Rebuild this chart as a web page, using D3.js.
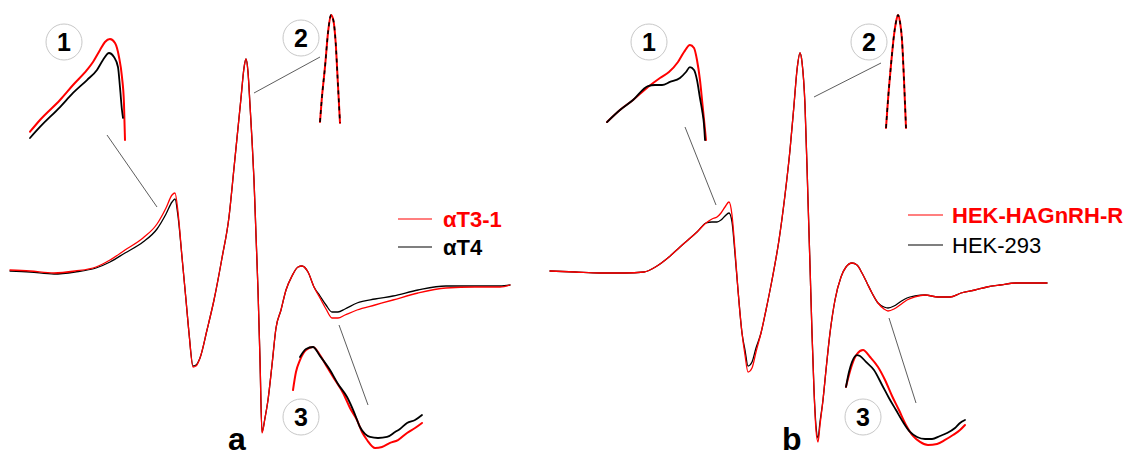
<!DOCTYPE html>
<html>
<head>
<meta charset="utf-8">
<script src="https://cdn.jsdelivr.net/npm/d3@7"></script>
<style>
  html, body { margin: 0; padding: 0; background: #fff; }
  svg { display: block; }
  text { font-family: "Liberation Sans", Arial, sans-serif; }
</style>
</head>
<body>
<svg id="chart" width="1132" height="457"></svg>
<script>
// ---------- Panel a: EPR spectra, αT3-1 vs αT4 (field in G offset, amplitude in a.u.) ----------
const fieldA = [0,4,8.8,13,17.2,20,23,26.6,29.4,31.2,32.4,33,33.6,34.4,35.2,35.8,36.6,37.2,38,39.4,40.8,42.4,43.8,44.8,45.6,46.2,46.8,47.2,47.6,48,48.4,48.8,49.2,49.6,50,50.4,51,51.6,52.4,53.2,54.2,55.2,56.4,57.6,58.4,59.6,60.8,62,63.2,64.4,65.6,67,69.4,73,76.6,81.6,87.2,93,98,100];
const aT31 = [0,-0.5,-1.5,-0.5,1.5,5,10,16,23,31,37.5,38.5,29,6.5,-15,-31.5,-48.5,-48,-44,-30,-15,6,26.5,51,71,86,101,105.5,99,82.5,65,45,17.5,-10,-45,-81.5,-74,-65,-47.5,-29,-20,-10,-3,1.5,2,-1,-8.5,-14,-19.5,-24,-24,-22.5,-20,-17.5,-15,-11.5,-9,-8.5,-8.5,-7.5];
const aT4  = [-0.5,-1,-2,-1,1,4,8.5,14,20.5,28,34,35.5,27,6.5,-15,-31.5,-48,-47.5,-44,-30,-15,6,26.5,51,71,86,101,105.5,99,82.5,65,45,17.5,-10,-45,-81,-74,-65,-47.5,-29,-20,-10,-3,1.5,2,-1,-8.5,-13,-17.5,-21,-21,-19.5,-16.5,-14.5,-13,-10,-8,-8,-8,-7.5];

// ---------- Panel b: HEK-HAGnRH-R vs HEK-293 ----------
const fieldB = [0,5,10,15,18.8,21.4,23.8,26,27.6,29.4,31.2,32.4,33.4,34.2,35,35.8,36.4,37,37.6,38.4,39,39.6,40.4,41.2,42.2,43.2,44.4,45.8,47,48,48.8,49.4,50,50.4,51,51.6,52,52.4,52.8,53.2,53.6,54,54.6,55.2,56,57,58.2,59.2,60.4,61.4,62.4,63.4,64.4,65.6,66.8,67.6,68.8,70,71.4,73,75,77.6,80,82.2,85,87.4,90,93.2,96,99.4];
const hekHA  = [-0.5,-1,-1.5,-1.5,-1,2,6.5,11.5,15,19,23.5,25.5,26.5,28.5,31.5,34,27.5,10,-10,-31.5,-42.5,-51,-49,-41,-31.5,-20,-5,15,37.5,60,82.5,100,108.5,104,82.5,35,2.5,-31.5,-60,-80,-86,-77.5,-65,-50,-31.5,-15,-3.5,1.5,3.5,2.5,-1.5,-6.5,-11.5,-16.5,-19.5,-20.5,-19.5,-17.5,-15,-13.5,-12.5,-13.5,-13.5,-11.5,-10,-8.5,-7.5,-6.5,-6.5,-6.5];
const hek293 = [-0.5,-1,-1.5,-1.5,-1,2,6.5,11.5,15,19,23.5,24,24,25,27,28.5,24,8,-10,-31.5,-40,-48,-46,-39,-31.5,-20,-5,15,37.5,60,82.5,100,108.5,104,82.5,35,2.5,-31.5,-60,-78,-84,-76,-65,-50,-31.5,-15,-3.5,1.5,3.5,2.5,-1.5,-6.5,-11.5,-16.5,-18.5,-19,-18,-16,-14,-13,-12.5,-13.5,-13.5,-11.5,-10,-8.5,-7.5,-6.5,-6.5,-6.5];

// ---------- Magnified regions (relative field 0-100, relative amplitude 0-100) ----------
// region 1 (low-field shoulder)
const a1RedX = [0,10.5,31.6,45.3,60,66.3,73.7,78.9,84.2,89.5,93.7,96.8,98.9,100];
const a1Red  = [12.5,23.6,42.5,56.6,70.8,78.3,89.6,97.2,100,96.2,83,64.2,39.6,4.7];
const a1BlkX = [0,10.5,31.6,45.3,60,70.5,76.8,83.2,88.4,92.6,94.7,96.8,97.9];
const a1Blk  = [6.6,17,35.8,49.1,61.3,70.8,80.2,86.8,83,73.6,54.7,33,25.5];
const b1RedX = [0,13.1,26.3,41.4,53.5,62.6,71.7,77.8,83.8,87.9,90.9,93.9,96,98,100];
const b1Red  = [18.9,31.6,42.1,55.8,65.3,71.6,82.1,92.6,100,96.8,84.2,63.2,42.1,21.1,0];
const b1BlkX = [0,13.1,26.3,41.4,48.5,55.6,63.6,73.7,79.8,83.8,87.9,90.9,93.9,96,98,99];
const b1Blk  = [18.9,31.6,42.1,56.8,57.9,57.9,61.1,65.3,71.6,76.8,73.7,63.2,44.2,31.6,15.8,0];
// region 2 (central line top)
const a2X   = [0,8.5,25,41.5,55,66.5,78.5,88.5,100];
const a2Red = [0.9,21.3,51.9,86.1,100,95.4,74.1,39.8,0];
const a2Blk = [0.9,21.3,51.9,86.1,100,95.4,74.1,39.8,0];
const b2X   = [0,10,25,40,50,60,70,80,90,100];
const b2Red = [0,24.8,55.8,82.3,93.8,100,93.8,77.9,42.5,0];
const b2Blk = [0,24.8,55.8,82.3,93.8,100,93.8,77.9,42.5,0];
// region 3 (high-field line)
const a3RedX = [0,2.3,5.4,10.1,15.5,20.9,26.4,32.6,38.8,44.2,49.6,53.5,57.4,63.6,69,75.2,81.4,88.4,94.6,100];
const a3Red  = [57.4,75.2,87.1,97,100,92.1,80.2,67.3,54.5,39.6,27.7,15.8,7.9,0,1,5,7.9,14.9,19.8,24.8];
const a3BlkX = [5.4,10.1,15.5,20.9,28.7,34.9,41.9,47.3,51.9,55.8,59.7,65.9,72.9,79.1,82.9,88.4,94.6,100];
const a3Blk  = [90.1,98,100,91.1,77.2,63.4,50.5,35.6,20.8,13.9,10.9,9.9,10.9,15.8,18.8,24.8,27.7,32.7];
const b3RedX = [0,2.5,5,9.2,14.3,20.2,26.9,32.8,38.7,44.5,50.4,56.3,62.2,68.9,76.5,83.2,89.9,95.8,100];
const b3Red  = [61.1,73.7,84.2,95.8,100,92.6,82.1,68.4,51.6,36.8,21.1,9.5,3.2,0,1.1,5.3,10.5,15.8,21.1];
const b3BlkX = [0,2.5,5,9.2,11.8,16.8,23.5,30.3,36.1,42,47.9,53.8,59.7,66.4,72.3,79,84.9,91.6,95.8,100];
const b3Blk  = [61.1,76.8,87.4,94.7,93.7,87.4,78.9,63.2,49.5,36.8,24.2,13.7,8.4,6.3,6.3,9.5,12.6,17.9,23.2,26.3];

// ---------- Labels ----------
const legendA = ["\u03b1T3-1", "\u03b1T4"];
const legendB = ["HEK-HAGnRH-R", "HEK-293"];
const panelLabels = ["a", "b"];
const regionLabels = ["1", "2", "3"];

const RED = "#ff0000", BLACK = "#000000";
const svg = d3.select("#chart");
svg.append("rect").attr("width", 1132).attr("height", 457).attr("fill", "#fff");

const yMain = d3.scaleLinear().domain([-100, 100]).range([470, 70]);
const zip = (xs, ys) => xs.map((x, i) => [x, ys[i]]);

function drawLine(g, xs, ys, sx, sy, color, width, dash) {
  const line = d3.line().x(d => sx(d[0])).y(d => sy(d[1])).curve(d3.curveMonotoneX);
  const p = g.append("path").datum(zip(xs, ys))
    .attr("d", line).attr("fill", "none")
    .attr("stroke", color).attr("stroke-width", width)
    .attr("stroke-linejoin", "round").attr("stroke-linecap", "round");
  if (dash) p.attr("stroke-dasharray", dash).attr("stroke-linecap", "butt");
}

function drawPanel(cfg) {
  const g = svg.append("g");
  const x = d3.scaleLinear().domain([0, 100]).range(cfg.xRange);

  // connector lines from the spectrum to the magnified regions
  cfg.connectors.forEach(c => {
    g.append("line").attr("x1", c[0]).attr("y1", c[1]).attr("x2", c[2]).attr("y2", c[3])
      .attr("stroke", "#333").attr("stroke-width", 0.8);
  });

  // full spectra
  drawLine(g, cfg.field, cfg.black, x, yMain, BLACK, 1.3);
  drawLine(g, cfg.field, cfg.red, x, yMain, RED, 1.3);

  // magnified regions
  cfg.insets.forEach(ins => {
    const sx = d3.scaleLinear().domain([0, 100]).range(ins.box[0]);
    const sy = d3.scaleLinear().domain([0, 100]).range(ins.box[1]);
    if (ins.overlay) {
      drawLine(g, ins.redX, ins.red, sx, sy, RED, 2);
      drawLine(g, ins.blkX, ins.blk, sx, sy, BLACK, 1.6, "4,4");
    } else {
      drawLine(g, ins.redX, ins.red, sx, sy, RED, 2);
      drawLine(g, ins.blkX, ins.blk, sx, sy, BLACK, 1.8);
    }
  });

  // numbered circles
  cfg.circles.forEach((c, i) => {
    g.append("circle").attr("cx", c[0]).attr("cy", c[1]).attr("r", 18)
      .attr("fill", "#fff").attr("stroke", "#c8c8c8").attr("stroke-width", 1);
    g.append("text").attr("x", c[0]).attr("y", c[1] + 9)
      .attr("text-anchor", "middle").attr("font-size", 25).attr("font-weight", "bold")
      .attr("fill", "#000").text(regionLabels[i]);
  });

  // legend
  const lg = cfg.legend;
  [[RED, lg.names[0], "bold"], [BLACK, lg.names[1], lg.secondWeight]].forEach((d, i) => {
    const yy = lg.y[i];
    g.append("line").attr("x1", lg.x0).attr("x2", lg.x1).attr("y1", yy).attr("y2", yy)
      .attr("stroke", d[0]).attr("stroke-width", 1.2);
    g.append("text").attr("x", lg.tx).attr("y", yy + 8)
      .attr("font-size", 22).attr("font-weight", d[2]).attr("fill", d[0]).text(d[1]);
  });

  // panel label
  g.append("text").attr("x", cfg.label[0]).attr("y", cfg.label[1])
    .attr("font-size", 32).attr("font-weight", "bold").attr("fill", "#000").text(cfg.label[2]);
}

drawPanel({
  xRange: [10, 510],
  field: fieldA, red: aT31, black: aT4,
  connectors: [[107, 135, 157, 207], [254, 93, 320, 57], [339, 325, 368, 405]],
  insets: [
    { box: [[30, 125], [145, 39]], redX: a1RedX, red: a1Red, blkX: a1BlkX, blk: a1Blk },
    { box: [[320, 340], [123, 15]], redX: a2X, red: a2Red, blkX: a2X, blk: a2Blk, overlay: true },
    { box: [[293, 422], [448, 347]], redX: a3RedX, red: a3Red, blkX: a3BlkX, blk: a3Blk }
  ],
  circles: [[64, 42], [301, 38], [301, 417]],
  legend: { names: legendA, x0: 398, x1: 432, tx: 443, y: [219, 247], secondWeight: "bold" },
  label: [228, 450, panelLabels[0]]
});

drawPanel({
  xRange: [550, 1050],
  field: fieldB, red: hekHA, black: hek293,
  connectors: [[685, 127, 716, 205], [814, 97, 881, 63], [889, 318, 916, 403]],
  insets: [
    { box: [[607, 706], [140, 45]], redX: b1RedX, red: b1Red, blkX: b1BlkX, blk: b1Blk },
    { box: [[886, 906], [128, 15]], redX: b2X, red: b2Red, blkX: b2X, blk: b2Blk, overlay: true },
    { box: [[846, 965], [445, 350]], redX: b3RedX, red: b3Red, blkX: b3BlkX, blk: b3Blk }
  ],
  circles: [[649, 42], [869, 42], [863, 417]],
  legend: { names: legendB, x0: 908, x1: 943, tx: 952, y: [215, 245], secondWeight: "normal" },
  label: [782, 450, panelLabels[1]]
});
</script>
</body>
</html>
